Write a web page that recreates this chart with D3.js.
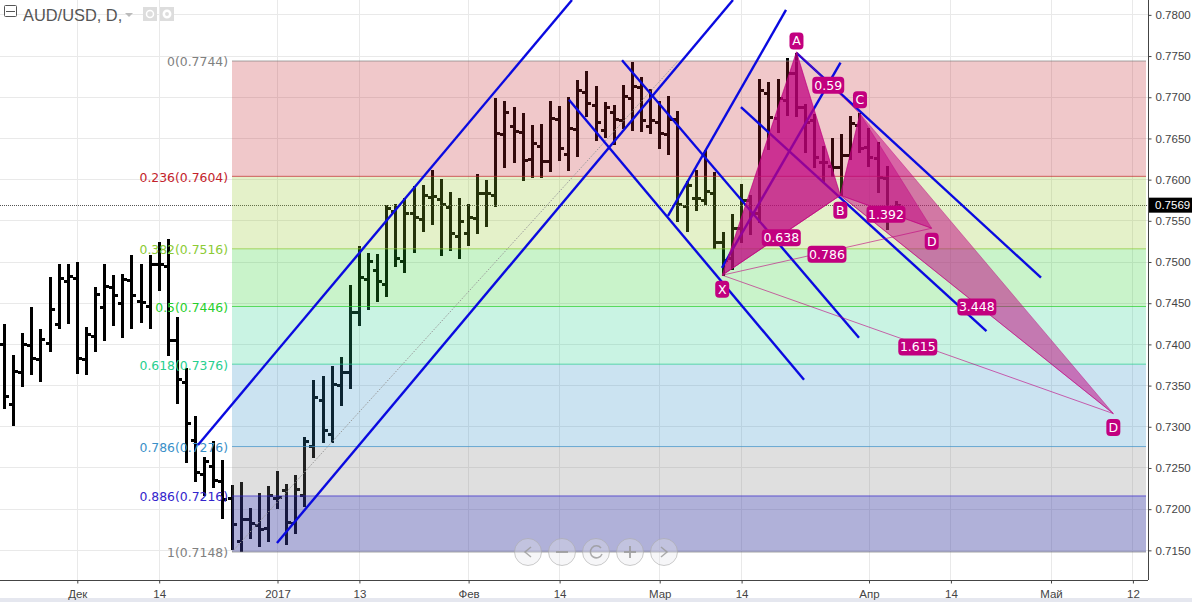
<!DOCTYPE html>
<html><head><meta charset="utf-8">
<script src="https://cdn.jsdelivr.net/npm/d3@7"></script>
<style>html,body{margin:0;padding:0;background:#fff;overflow:hidden}svg{display:block}</style>
</head><body><svg id="c" width="1192" height="602"></svg>
<script>
// Prices in 1/10000 of a dollar, one entry per trading day, first entry is 8 sessions before 1 Dec
const firstBar = -8;
const highs = [7425,7387,7414,7445,7419,7482,7498,7498,7500,7421,7470,7498,7484,7485,7509,7498,7509,7524,7528,7433,7371,7313,7263,7283,7260,
7229,7233,7201,7220,7228,7246,7230,7241,7288,7357,7362,7374,7385,7472,7519,7511,7510,7569,7570,7578,7592,7593,7612,7601,7585,7578,7570,7607,7600,
7699,7695,7688,7681,7666,7668,7695,7689,7700,7721,7732,7714,7694,7691,7715,7743,7725,7710,7695,7701,
7683,7598,7612,7636,7609,7536,7558,7595,7581,7722,7719,7722,7748,7754,7692,7680,7641,7651,7655,7677,7681,7663,7646,7617,7574];
const lows = [7322,7301,7348,7363,7354,7391,7419,7425,7364,7363,7391,7404,7422,7408,7419,7426,7419,7465,7386,7328,7256,7233,7216,7226,7188,
7150,7148,7164,7154,7160,7200,7156,7170,7203,7262,7280,7280,7325,7346,7422,7442,7451,7457,7494,7487,7511,7536,7545,7507,7513,7504,7519,7534,7542,
7567,7614,7620,7598,7602,7602,7609,7623,7610,7627,7676,7647,7651,7642,7661,7659,7658,7655,7637,7630,
7549,7536,7562,7569,7516,7483,7490,7523,7533,7547,7636,7657,7677,7676,7632,7614,7596,7603,7580,7624,7632,7615,7584,7539,7555];
const opens = [7401,7328,7367,7399,7382,7402,7425,7477,7481,7382,7410,7445,7470,7450,7478,7453,7446,7497,7495,7405,7354,7284,7243,7252,7234,
7213,7161,7188,7181,7177,7214,7223,7183,7217,7277,7332,7291,7351,7366,7439,7479,7490,7473,7562,7501,7559,7552,7579,7576,7567,7532,7535,7553,7584,
7581,7655,7665,7658,7625,7641,7623,7674,7631,7661,7706,7691,7660,7682,7672,7699,7712,7665,7670,7655,
7674,7568,7578,7575,7584,7524,7505,7541,7575,7559,7705,7675,7697,7729,7688,7672,7621,7617,7615,7630,7666,7640,7626,7602,7558];
const closes = [7337,7368,7400,7383,7406,7443,7481,7483,7384,7413,7461,7471,7460,7479,7460,7451,7498,7497,7405,7358,7304,7245,7258,7236,7212,
7182,7188,7183,7176,7217,7215,7184,7224,7283,7336,7296,7352,7366,7439,7482,7501,7477,7566,7505,7559,7555,7581,7580,7570,7535,7550,7555,7584,7584,
7656,7682,7659,7624,7644,7623,7675,7638,7663,7709,7693,7670,7688,7674,7701,7714,7672,7672,7657,7674,
7570,7593,7578,7586,7524,7502,7541,7575,7559,7709,7676,7699,7729,7688,7670,7627,7621,7615,7630,7669,7638,7627,7603,7558,7569];

const priceTicks = [0.7150,0.7200,0.7250,0.7300,0.7350,0.7400,0.7450,0.7500,0.7550,0.7600,0.7650,0.7700,0.7750,0.7800];
const timeTickBars = [0,9,22,31,43,53,64,73,87,96,107,116];
const timeTickLabels = ["Дек","14","2017","13","Фев","14","Мар","14","Апр","14","Май","12"];
const lastPrice = 0.7569;

const fibRatios = ["0","0.236","0.382","0.5","0.618","0.786","0.886","1"];
const fibPrices = [0.7744,0.7604,0.7516,0.7446,0.7376,0.7276,0.7216,0.7148];
const fibColors = ["#808080","#c3232b","#8ccb35","#27cf2b","#27cf8f","#3a90c8","#3325cc","#808080"];
const bandFills = ["#c3232b","#93c727","#27cf2b","#27cf8f","#2f8fc7","#7f7f7f","#393ba0"];
const bandAlphas = [.25,.25,.25,.25,.25,.25,.4];

// trend lines: [barA, priceA, barB, priceB]
const channelLines = [
 [13.26,0.7278,54.36,0.7818],[21.94,0.7159,72.05,0.7818],
 [54.03,0.7697,79.86,0.7357],[59.86,0.7745,85.9,0.7408],
 [72.93,0.7688,99.91,0.7416],[79.03,0.7754,105.9,0.7481],
 [64.91,0.7556,77.88,0.7806],[70.84,0.7493,83.87,0.7742]];
const fibTrend = [17,0.7148,66.01,0.7744];

// harmonic pattern pivots
const pivotNames = ["X","A","B","C","D","D"];
const pivotBars = [70.87,79.03,83.85,86.01,93.89,113.85];
const pivotPrices = [0.7484,0.7755,0.7581,0.7680,0.7541,0.7316];
const ratioLabels = [["0.638",0,2],["0.59",1,3],["0.786",0,4],["1.392",2,4],["1.615",0,5],["3.448",2,5]];

const W=1192,H=602,axisX=1148,axisY=580;
const x=d3.scaleLinear().domain([0,100]).range([77.3,987.3]);
const y=d3.scaleLinear().domain([0.7148,0.7744]).range([552,61]);
const svg=d3.select("#c");
const SANS="'Liberation Sans',Arial,sans-serif", DV="'DejaVu Sans',sans-serif";

svg.append("rect").attr("width",W).attr("height",H).attr("fill","#fff");
svg.append("rect").attr("y",598).attr("width",W).attr("height",4).attr("fill","#e5e7ef");

// grid
const grid=svg.append("g").attr("shape-rendering","crispEdges").attr("stroke","#e9e9e9");
grid.selectAll(".v").data(timeTickBars).join("line").attr("x1",d=>x(d)).attr("x2",d=>x(d)).attr("y1",0).attr("y2",axisY);
grid.selectAll(".h").data(priceTicks).join("line").attr("x1",0).attr("x2",axisX).attr("y1",d=>y(d)).attr("y2",d=>y(d));

// OHLC bars
const bars=svg.append("g").attr("fill","#000").attr("shape-rendering","crispEdges");
highs.forEach((h,k)=>{
  const cx=Math.round(x(k+firstBar)-1.5);
  const Y=v=>y(v/10000);
  bars.append("rect").attr("x",cx).attr("width",3).attr("y",Y(h)).attr("height",Y(lows[k])-Y(h));
  bars.append("rect").attr("x",cx-3).attr("width",3).attr("y",Math.round(Y(opens[k]))-1).attr("height",3);
  bars.append("rect").attr("x",cx+3).attr("width",3).attr("y",Math.round(Y(closes[k]))-1).attr("height",3);
});

// last price line
svg.append("line").attr("x1",0).attr("x2",axisX).attr("y1",Math.round(y(lastPrice))+.5).attr("y2",Math.round(y(lastPrice))+.5)
  .attr("stroke","#555").attr("stroke-width",1).attr("stroke-dasharray","1 1");

// fibonacci bands
const fibL=232,fibR=1146;
const fib=svg.append("g");
fibPrices.slice(1).forEach((p,k)=>{
  fib.append("rect").attr("x",fibL).attr("width",fibR-fibL).attr("y",y(fibPrices[k])).attr("height",y(p)-y(fibPrices[k]))
    .attr("fill",bandFills[k]).attr("fill-opacity",bandAlphas[k]);
});
fibPrices.forEach((p,k)=>{
  fib.append("line").attr("x1",fibL).attr("x2",fibR).attr("y1",y(p)).attr("y2",y(p))
    .attr("stroke",fibColors[k]).attr("stroke-opacity",.7).attr("stroke-width",1);
  fib.append("text").attr("x",228).attr("y",y(p)+1).attr("dy",".36em").attr("text-anchor","end")
    .attr("font-family",DV).attr("font-size",12.4).attr("fill",fibColors[k])
    .text(fibRatios[k]+"("+p.toFixed(4)+")");
});

// dotted fib trend
svg.append("line").attr("x1",x(fibTrend[0])).attr("y1",y(fibTrend[1])).attr("x2",x(fibTrend[2])).attr("y2",y(fibTrend[3]))
  .attr("stroke","#999").attr("stroke-width",1).attr("stroke-dasharray","1.5 1.5");

// channels
svg.append("g").attr("stroke","#0a0ae0").attr("stroke-width",2.4).selectAll("line").data(channelLines).join("line")
  .attr("x1",d=>x(d[0])).attr("y1",d=>y(d[1])).attr("x2",d=>x(d[2])).attr("y2",d=>y(d[3]));

// harmonic patterns
const px=k=>x(pivotBars[k]), py=k=>y(pivotPrices[k]);
const tri=(a,b,c)=>`M${px(a)},${py(a)}L${px(b)},${py(b)}L${px(c)},${py(c)}Z`;
const pat=svg.append("g");
[[0,1,2],[0,1,2],[2,3,4],[2,3,5]].forEach(t=>{
  pat.append("path").attr("d",tri(...t)).attr("fill","#c0007f").attr("fill-opacity",.5).attr("stroke","#c0007f").attr("stroke-opacity",.5).attr("stroke-width",.8);
});
[[0,2],[0,4],[0,5],[2,4],[2,5],[1,3]].forEach(([a,b])=>{
  pat.append("line").attr("x1",px(a)).attr("y1",py(a)).attr("x2",px(b)).attr("y2",py(b)).attr("stroke","#c0007f").attr("stroke-opacity",.6).attr("stroke-width",1);
});

const LABEL="#c2007f";
ratioLabels.forEach(([t,a,b])=>{
  const cx=(px(a)+px(b))/2, cy=(py(a)+py(b))/2+2.5, w=t.length===4?32:39, h=17;
  pat.append("rect").attr("x",cx-w/2).attr("y",cy-h/2).attr("width",w).attr("height",h).attr("rx",4).attr("fill",LABEL);
  pat.append("text").attr("x",cx).attr("y",cy).attr("dy",".36em").attr("text-anchor","middle").attr("font-family",DV).attr("font-size",12.5).attr("fill","#fff").text(t);
});
const pivotOffsets=[14,-11,15,-14,13,14];
pivotNames.forEach((t,k)=>{
  const cx=px(k), cy=py(k)+pivotOffsets[k], w=14, h=17;
  pat.append("rect").attr("x",cx-w/2).attr("y",cy-h/2).attr("width",w).attr("height",h).attr("rx",4).attr("fill",LABEL);
  pat.append("text").attr("x",cx).attr("y",cy).attr("dy",".36em").attr("text-anchor","middle").attr("font-family",DV).attr("font-size",12.5).attr("fill","#fff").text(t);
});

// nav buttons
const nav=svg.append("g").attr("transform","translate(0,552)");
const glyph=["M3,-5L-3,0L3,5","M-6,0H6","M5,-4A6,6 0 1 0 6,2","M-6,0H6M0,-6V6","M-3,-5L3,0L-3,5"];
[528,562,596,630,664].forEach((cx,k)=>{
  const g=nav.append("g").attr("transform",`translate(${cx},0)`);
  g.append("circle").attr("r",13.5).attr("fill","#e6e6ea").attr("fill-opacity",.35).attr("stroke","#aaa").attr("stroke-opacity",.6);
  g.append("path").attr("d",glyph[k]).attr("fill","none").attr("stroke","#999").attr("stroke-opacity",.8).attr("stroke-width",k===1||k===3?2:1.5);
});

// axes
const axR=d3.axisRight(y).tickValues(priceTicks).tickFormat(d3.format(".4f")).tickSize(3).tickPadding(4);
const gR=svg.append("g").attr("transform",`translate(${axisX}.5,0)`).call(axR);
gR.select(".domain").attr("d",`M0,0V${axisY}`).attr("stroke","#444");
gR.selectAll("line").attr("stroke","#444");
gR.selectAll("text").attr("font-family",SANS).attr("font-size",11.5).attr("fill","#444");
const axB=d3.axisBottom(x).tickValues(timeTickBars).tickFormat((d,k)=>timeTickLabels[k]).tickSize(3).tickPadding(6);
const gB=svg.append("g").attr("transform",`translate(0,${axisY}.5)`).call(axB);
gB.select(".domain").attr("d",`M0,0H${axisX}`).attr("stroke","#444");
gB.selectAll("line").attr("stroke","#444");
gB.selectAll("text").attr("font-family",SANS).attr("font-size",11.5).attr("fill","#444");

// last price tag
svg.append("rect").attr("x",axisX+1).attr("y",y(lastPrice)-7.5).attr("width",W-axisX-1).attr("height",15).attr("fill","#000");
svg.append("text").attr("x",axisX+7).attr("y",y(lastPrice)).attr("dy",".36em").attr("font-family",SANS).attr("font-size",11.5).attr("fill","#fff").text(lastPrice.toFixed(4));

// header
svg.append("rect").attr("x",4.5).attr("y",5.5).attr("width",12).attr("height",11).attr("rx",1).attr("fill","#fff").attr("stroke","#555");
svg.append("line").attr("x1",6).attr("x2",15).attr("y1",11.5).attr("y2",11.5).attr("stroke","#555");
svg.append("text").attr("x",23).attr("y",21).attr("font-family",SANS).attr("font-size",16.4).attr("fill","#555").text("AUD/USD, D,");
svg.append("path").attr("d","M125,13H133L129,17Z").attr("fill","#bbb");
svg.append("rect").attr("x",143).attr("y",7).attr("width",14).attr("height",14).attr("fill","#ddd");
svg.append("circle").attr("cx",150).attr("cy",14).attr("r",3.5).attr("fill","none").attr("stroke","#fff").attr("stroke-width",1.5);
svg.append("rect").attr("x",160).attr("y",7).attr("width",14).attr("height",14).attr("fill","#ddd");
svg.append("circle").attr("cx",167).attr("cy",14).attr("r",3.2).attr("fill","none").attr("stroke","#fff").attr("stroke-width",2.5);
</script></body></html>
